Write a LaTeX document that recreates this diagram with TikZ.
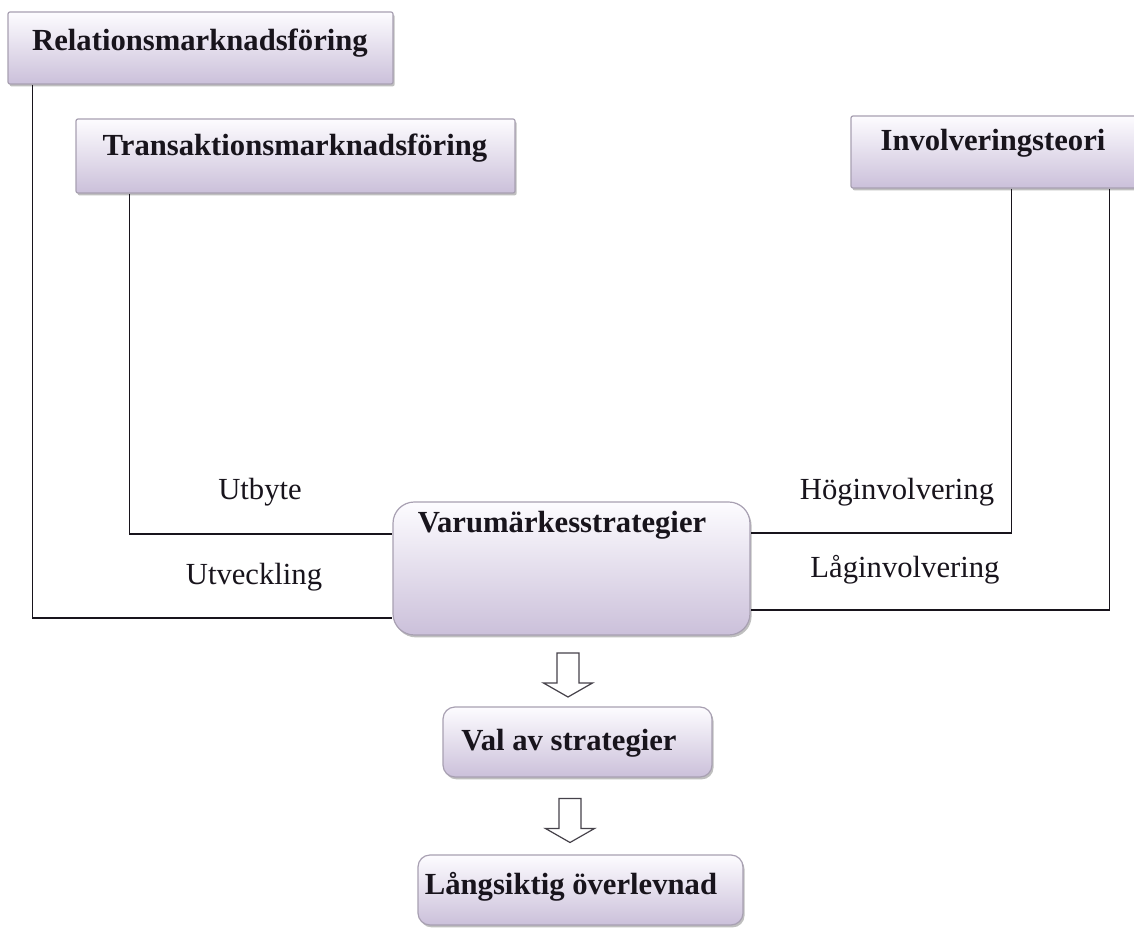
\documentclass[tikz,border=0pt]{standalone}
\usepackage{fontspec}
\setmainfont{Liberation Serif}
\usetikzlibrary{shadows}

\definecolor{boxtop}{RGB}{253,252,255}
\definecolor{boxbot}{RGB}{203,192,218}
\definecolor{boxline}{RGB}{168,160,178}
\definecolor{ink}{RGB}{24,20,28}
\definecolor{arrowline}{RGB}{70,66,74}

\tikzset{
  box/.style={draw=boxline, line width=0.9pt, top color=boxtop, bottom color=boxbot,
    inner sep=0pt, rounded corners=1.5pt,
    drop shadow={shadow xshift=1.2pt, shadow yshift=-1.8pt, fill=black!55, opacity=0.45}},
  softbox/.style={box, rounded corners=9pt},
  bigbox/.style={box, rounded corners=16pt},
  title/.style={text=ink, font=\fontsize{23}{27}\selectfont\bfseries, inner sep=0pt},
  tag/.style={text=ink, font=\fontsize{23}{27}\selectfont, inner sep=0pt},
  conn/.style={draw=ink, line width=1.3pt},
  hollow/.style={draw=arrowline, fill=white, line width=0.9pt, line join=miter},
  pics/downarrow/.style={code={
    \path[hollow] (-11,-22) -- (11,-22) -- (11,8) -- (24.5,8) -- (0,22)
      -- (-24.5,8) -- (-11,8) -- cycle;}},
}

\begin{document}
\begin{tikzpicture}[x=0.75pt, y=-0.75pt]
  \useasboundingbox (0,0) rectangle (1134,930);
  \fill[white] (0,0) rectangle (1134,930);

  % theory boxes
  \node[box, minimum width=288.75pt, minimum height=54pt] (rel) at (200.5,48) {};
  \node[title] (relt) at (200,43) {Relationsmarknadsföring};
  \node[box, minimum width=329.25pt, minimum height=55.5pt] (tra) at (295.5,156) {};
  \node[title] (trat) at (295,148) {Transaktionsmarknadsföring};
  \node[box, minimum width=224.25pt, minimum height=54pt] (inv) at (1000.5,152) {};
  \node[title] (invt) at (993,143) {Involveringsteori};

  % central strategy box and outcome chain
  \node[bigbox, minimum width=267.75pt, minimum height=99.75pt] (var) at (571.5,568.5) {};
  \node[title] (vart) at (562,525) {Varumärkesstrategier};
  \node[softbox, minimum width=201.75pt, minimum height=52.5pt] (val) at (577.5,742) {};
  \node[title] (valt) at (569,743) {Val av strategier};
  \node[softbox, minimum width=243.75pt, minimum height=52.5pt] (lang) at (580.5,890) {};
  \node[title] (langt) at (571,887) {Långsiktig överlevnad};

  % hollow arrows between the lower boxes
  \coordinate (ar1) at (568,675);
  \coordinate (ar2) at (570,820.5);
  \pic at (ar1) {downarrow};
  \pic at (ar2) {downarrow};

  % connectors into the strategy box
  \draw[conn] ([xshift=18.75pt]rel.south west) |- (var.west |- 0,618);
  \draw[conn] ([xshift=40.5pt]tra.south west) |- (var.west |- 0,534);
  \draw[conn] ([xshift=120.75pt]inv.south west) |- (var.east |- 0,533);
  \draw[conn] ([xshift=194.25pt]inv.south west) |- (var.east |- 0,610);

  % connector labels
  \node[tag] (utb) at (260,492) {Utbyte};
  \node[tag] (utv) at (254,577) {Utveckling};
  \node[tag] (hog) at (897,492) {Höginvolvering};
  \node[tag] (lag) at (905,570) {Låginvolvering};
\end{tikzpicture}
\end{document}
